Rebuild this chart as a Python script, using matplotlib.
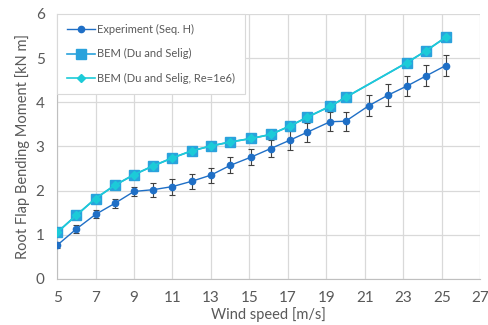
import matplotlib
matplotlib.use("Agg")
import matplotlib.pyplot as plt
from matplotlib.lines import Line2D

plt.rcParams['font.family'] = ['Lato', 'DejaVu Sans']

exp_wind = [5, 6, 7, 8, 9, 10, 11, 12, 13, 14, 15.1, 16.1, 17.1, 18.0, 19.2, 20.0, 21.2, 22.2, 23.2, 24.2, 25.2]
exp_moment = [0.76, 1.13, 1.46, 1.71, 1.98, 2.02, 2.09, 2.21, 2.35, 2.57, 2.76, 2.95, 3.14, 3.32, 3.56, 3.57, 3.92, 4.16, 4.37, 4.60, 4.83]
exp_err = [0.07, 0.09, 0.09, 0.1, 0.1, 0.16, 0.18, 0.17, 0.17, 0.18, 0.18, 0.19, 0.22, 0.22, 0.22, 0.22, 0.24, 0.25, 0.23, 0.24, 0.24]

bem_wind = [5, 6, 7, 8, 9, 10, 11, 12, 13, 14, 15.1, 16.1, 17.1, 18.0, 19.2, 20.0, 23.2, 24.2, 25.2]
bem_moment = [1.05, 1.44, 1.82, 2.12, 2.36, 2.56, 2.74, 2.90, 3.01, 3.10, 3.18, 3.27, 3.46, 3.66, 3.91, 4.11, 4.90, 5.17, 5.47]
bem_re_moment = [1.05, 1.44, 1.82, 2.12, 2.36, 2.56, 2.74, 2.90, 3.01, 3.10, 3.18, 3.27, 3.46, 3.66, 3.91, 4.11, 4.90, 5.17, 5.47]

x_ticks = [5, 7, 9, 11, 13, 15, 17, 19, 21, 23, 25, 27]
y_ticks = [0, 1, 2, 3, 4, 5, 6]

fig = plt.figure(figsize=(4.88, 3.25), dpi=100)
ax = fig.add_axes([0.117, 0.142, 0.867, 0.815])

c_exp = '#1f6fc6'
c_bem = '#2aa2dc'
c_re = '#1ccbd8'
txt = '#595959'

ax.errorbar(exp_wind, exp_moment, yerr=exp_err, color=c_exp, marker='o', markersize=4.5,
            linewidth=1.0, ecolor='#404040', elinewidth=0.8, capsize=2, capthick=0.8,
            zorder=3)
ax.plot(bem_wind, bem_moment, color=c_bem, marker='s', markersize=7, linewidth=1.2, zorder=4)
ax.plot(bem_wind, bem_re_moment, color=c_re, marker='D', markersize=4, linewidth=1.2, zorder=5)

handles = [
    Line2D([], [], color=c_exp, marker='o', markersize=4.5, linewidth=1.0),
    Line2D([], [], color=c_bem, marker='s', markersize=7, linewidth=1.2),
    Line2D([], [], color=c_re, marker='D', markersize=4, linewidth=1.2),
]
labels = ['Experiment (Seq. H)', 'BEM (Du and Selig)', 'BEM (Du and Selig, Re=1e6)']

ax.set_xlim(5, 27)
ax.set_ylim(0, 6)
ax.set_xticks(x_ticks)
ax.set_yticks(y_ticks)
ax.grid(True, color='#d9d9d9', linewidth=0.9)
ax.set_axisbelow(True)
for s in ['top', 'right']:
    ax.spines[s].set_visible(False)
for s in ['left', 'bottom']:
    ax.spines[s].set_color('#bfbfbf')
ax.tick_params(length=0, labelsize=11, colors=txt, pad=9)
ax.set_xlabel('Wind speed [m/s]', fontsize=10.5, color=txt, labelpad=1)
ax.set_ylabel('Root Flap Bending Moment [kN m]', fontsize=10.5, color=txt, labelpad=4)

leg = ax.legend(handles, labels, loc='upper left', bbox_to_anchor=(0, 1), fontsize=8, frameon=True,
                fancybox=False, edgecolor='#d9d9d9', framealpha=1, labelcolor=txt,
                borderpad=0.9, labelspacing=1.2, handlelength=2.5, handletextpad=0.15,
                borderaxespad=0)
leg.get_frame().set_linewidth(0.8)

fig.savefig('out.png', dpi=100)
